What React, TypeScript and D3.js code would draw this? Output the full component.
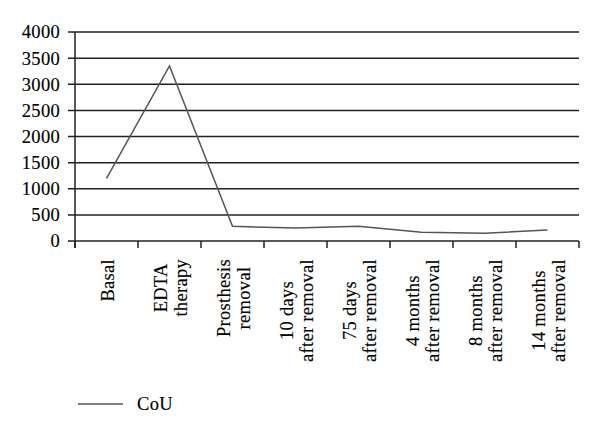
import React, { useEffect, useRef } from 'react';
import * as d3 from 'd3';

const categories = [
  'Basal',
  'EDTA therapy',
  'Prosthesis removal',
  '10 days after removal',
  '75 days after removal',
  '4 months after removal',
  '8 months after removal',
  '14 months after removal',
];
const labelLines = [
  ['Basal'],
  ['EDTA', 'therapy'],
  ['Prosthesis', 'removal'],
  ['10 days', 'after removal'],
  ['75 days', 'after removal'],
  ['4 months', 'after removal'],
  ['8 months', 'after removal'],
  ['14 months', 'after removal'],
];
const couValues = [1200, 3350, 280, 250, 280, 166, 148, 210];
const yTicks = [0, 500, 1000, 1500, 2000, 2500, 3000, 3500, 4000];
const seriesName = 'CoU';

const FONT = '"Liberation Serif", "Times New Roman", serif';
const FS = 18.5;
const LS = 0.3;

export default function App() {
  const svgRef = useRef<SVGSVGElement>(null);

  useEffect(() => {
    if (!svgRef.current) return;
    const width = 600;
    const height = 436;
    const left = 75;
    const right = 579;
    const top = 32;
    const bottom = 241;

    const svg = d3.select(svgRef.current);
    svg.selectAll('*').remove();
    svg.attr('width', width).attr('height', height);

    const x = d3.scaleBand<string>().domain(categories).range([left, right]).padding(0);
    const y = d3.scaleLinear().domain([0, 4000]).range([bottom, top]);
    const bw = x.bandwidth();

    // grid lines
    svg.append('g')
      .selectAll('line')
      .data(yTicks)
      .enter()
      .append('line')
      .attr('x1', left - 7)
      .attr('x2', right)
      .attr('y1', d => y(d))
      .attr('y2', d => y(d))
      .attr('stroke', '#222')
      .attr('stroke-width', 1.5);

    // y axis line
    svg.append('line')
      .attr('x1', left).attr('x2', left)
      .attr('y1', top).attr('y2', bottom + 7)
      .attr('stroke', '#222')
      .attr('stroke-width', 1.5);

    // category ticks
    const bounds = categories.map(c => x(c) as number).concat([right]);
    svg.append('g')
      .selectAll('line')
      .data(bounds)
      .enter()
      .append('line')
      .attr('x1', d => d).attr('x2', d => d)
      .attr('y1', bottom).attr('y2', bottom + 7)
      .attr('stroke', '#222')
      .attr('stroke-width', 1.5);

    const styleText = (t: any) => t
      .attr('font-family', FONT)
      .attr('font-size', FS)
      .attr('letter-spacing', LS)
      .attr('fill', '#000')
      .attr('stroke', '#000')
      .attr('stroke-width', 0.15);

    // y labels
    svg.append('g')
      .selectAll('text')
      .data(yTicks)
      .enter()
      .append('text')
      .attr('x', left - 15)
      .attr('y', d => y(d))
      .attr('dy', '0.35em')
      .attr('text-anchor', 'end')
      .call(styleText)
      .text(d => d);

    // x labels (rotated, centred as a block, top at y = 259)
    const labelTop = 259;
    categories.forEach((c, i) => {
      const lines = labelLines[i];
      const cx = (x(c) as number) + bw / 2;
      const g = svg.append('g');
      const texts = lines.map(ln =>
        g.append('text')
          .attr('text-anchor', 'middle')
          .attr('dy', '0.35em')
          .call(styleText)
          .text(ln)
      );
      const maxLen = d3.max(texts, t => (t.node() as SVGTextElement).getComputedTextLength()) || 0;
      const cy = labelTop + maxLen / 2;
      texts.forEach((t, j) => {
        const off = (j - (lines.length - 1) / 2) * 20 + 1;
        t.attr('transform', `translate(${cx + off},${cy}) rotate(-90)`);
      });
    });

    // data line
    const line = d3.line<number>()
      .x((_, i) => (x(categories[i]) as number) + bw / 2)
      .y(d => y(d));
    svg.append('path')
      .datum(couValues)
      .attr('d', line)
      .attr('fill', 'none')
      .attr('stroke', '#555')
      .attr('stroke-width', 1.5);

    // legend
    svg.append('line')
      .attr('x1', 78).attr('x2', 123)
      .attr('y1', 404).attr('y2', 404)
      .attr('stroke', '#555')
      .attr('stroke-width', 1.5);
    svg.append('text')
      .attr('x', 137)
      .attr('y', 404)
      .attr('dy', '0.35em')
      .call(styleText)
      .text(seriesName);
  }, []);

  return <svg ref={svgRef} style={{ position: 'absolute', left: 0, top: 0 }}></svg>;
}
